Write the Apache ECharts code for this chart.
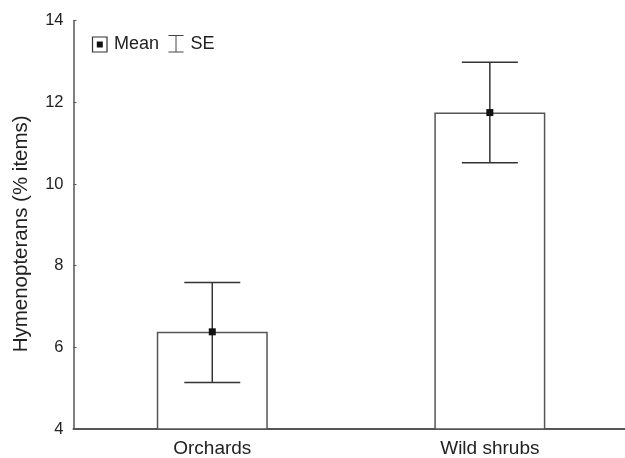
<!DOCTYPE html>
<html>
<head>
<meta charset="utf-8">
<script src="https://cdn.jsdelivr.net/npm/echarts@6/dist/echarts.min.js"></script>
<style>
html,body{margin:0;padding:0;background:#fff;}
#chart{width:625px;height:458px;}
</style>
</head>
<body>
<div id="chart"></div>
<script>
const categories = ['Orchards', 'Wild shrubs'];
const categoryPositions = [1, 2];
const meanValues = [6.38, 11.75];
const seLower = [5.14, 10.52];
const seUpper = [7.59, 12.98];
const yTicks = [4, 6, 8, 10, 12, 14];
const yAxisTitle = 'Hymenopterans (% items)';
const legendLabels = ['Mean', 'SE'];

const chart = echarts.init(document.getElementById('chart'), null, {renderer: 'canvas'});
const FONT = 'Liberation Sans, Arial, Helvetica, sans-serif';

const barData = categoryPositions.map((x, i) => [x, meanValues[i]]);
const errData = categoryPositions.map((x, i) => [x, seLower[i], seUpper[i], meanValues[i]]);

const option = {
  animation: false,
  backgroundColor: '#fff',
  grid: {left: 73.5, right: 0, top: 20.7, bottom: 25.7, containLabel: false},
  xAxis: {
    type: 'value',
    min: 0.5,
    max: 2.487,
    splitLine: {show: false},
    axisLine: {show: true, onZero: false, lineStyle: {color: '#555', width: 2}},
    axisTick: {show: true, inside: true, length: 3, customValues: categoryPositions, lineStyle: {color: '#333', width: 1}},
    axisLabel: {
      show: true, customValues: categoryPositions, margin: 10,
      color: '#222', fontSize: 19, fontFamily: FONT,
      formatter: v => { const i = categoryPositions.indexOf(Math.round(v)); return i >= 0 ? categories[i] : ''; }
    }
  },
  yAxis: {
    type: 'value',
    min: yTicks[0],
    max: yTicks[yTicks.length - 1],
    interval: 2,
    name: yAxisTitle,
    nameLocation: 'middle',
    nameGap: 42,
    nameRotate: 90,
    nameTextStyle: {color: '#222', fontSize: 20.5, fontFamily: FONT, padding: [0, 18, 0, 0]},
    splitLine: {show: false},
    axisLine: {show: true, onZero: false, lineStyle: {color: '#555', width: 1.5}},
    axisTick: {show: true, inside: true, length: 3, lineStyle: {color: '#555', width: 1}},
    axisLabel: {color: '#222', fontSize: 16.5, fontFamily: FONT, margin: 10}
  },
  series: [
    {
      type: 'bar',
      data: barData,
      barWidth: 111,
      clip: true,
      itemStyle: {color: '#fff', borderColor: '#555', borderWidth: 1.5},
      z: 2
    },
    {
      type: 'custom',
      data: errData,
      z: 3,
      clip: false,
      renderItem: function (params, api) {
        const x = api.value(0);
        const lo = api.coord([x, api.value(1)]);
        const hi = api.coord([x, api.value(2)]);
        const mid = api.coord([x, api.value(3)]);
        const hw = 28;
        const style = {stroke: '#333', lineWidth: 1.5, fill: null};
        return {
          type: 'group',
          children: [
            {type: 'line', shape: {x1: lo[0], y1: lo[1], x2: hi[0], y2: hi[1]}, style: style},
            {type: 'line', shape: {x1: hi[0] - hw, y1: hi[1], x2: hi[0] + hw, y2: hi[1]}, style: style},
            {type: 'line', shape: {x1: lo[0] - hw, y1: lo[1], x2: lo[0] + hw, y2: lo[1]}, style: style},
            {type: 'rect', shape: {x: mid[0] - 3.5, y: mid[1] - 3.5, width: 7, height: 7}, style: {fill: '#111'}}
          ]
        };
      }
    }
  ],
  graphic: [
    {type: 'rect', shape: {x: 92.5, y: 37, width: 14.5, height: 15}, style: {fill: '#fff', stroke: '#333', lineWidth: 1.2}},
    {type: 'rect', shape: {x: 96.8, y: 41.5, width: 6, height: 6}, style: {fill: '#111'}},
    {type: 'text', x: 114, y: 44, style: {text: legendLabels[0], fill: '#222', font: '18px ' + FONT, verticalAlign: 'middle', align: 'left'}},
    {type: 'line', shape: {x1: 168.5, y1: 35.5, x2: 183.5, y2: 35.5}, style: {stroke: '#444', lineWidth: 1}},
    {type: 'line', shape: {x1: 176, y1: 35.5, x2: 176, y2: 52}, style: {stroke: '#444', lineWidth: 1}},
    {type: 'line', shape: {x1: 168.5, y1: 52, x2: 183.5, y2: 52}, style: {stroke: '#444', lineWidth: 1}},
    {type: 'text', x: 190.5, y: 44, style: {text: legendLabels[1], fill: '#222', font: '18px ' + FONT, verticalAlign: 'middle', align: 'left'}}
  ]
};
chart.setOption(option);
</script>
</body>
</html>
